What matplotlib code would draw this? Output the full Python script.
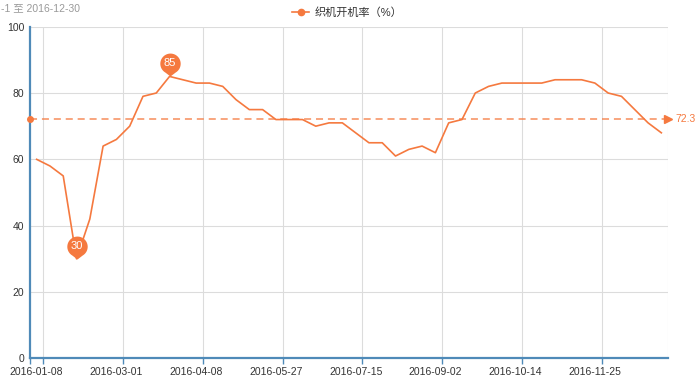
import numpy as np
import matplotlib
matplotlib.use("Agg")
import matplotlib.pyplot as plt
from matplotlib.path import Path
from matplotlib.lines import Line2D

# weekly observation dates (category axis)
dates = [
    "2016-01-08", "2016-01-15", "2016-01-22", "2016-01-29", "2016-02-05", "2016-02-19",
    "2016-03-01", "2016-03-04", "2016-03-11", "2016-03-18", "2016-03-25", "2016-04-01",
    "2016-04-08", "2016-04-15", "2016-04-22", "2016-04-29", "2016-05-13", "2016-05-20",
    "2016-05-27", "2016-06-03", "2016-06-17", "2016-06-24", "2016-07-01", "2016-07-08",
    "2016-07-15", "2016-07-22", "2016-07-29", "2016-08-05", "2016-08-12", "2016-08-26",
    "2016-09-02", "2016-09-09", "2016-09-16", "2016-09-23", "2016-09-30", "2016-10-08",
    "2016-10-14", "2016-10-21", "2016-10-28", "2016-11-04", "2016-11-11", "2016-11-18",
    "2016-11-25", "2016-12-02", "2016-12-09", "2016-12-16", "2016-12-23", "2016-12-30",
]
# 织机开机率 (%)
rate = [
    60, 58, 55, 30, 42, 64, 66, 70, 79, 80, 85, 84,
    83, 83, 82, 78, 75, 75, 72, 72, 72, 70, 71, 71,
    68, 65, 65, 61, 63, 64, 62, 71, 72, 80, 82, 83,
    83, 83, 83, 84, 84, 84, 83, 80, 79, 75, 71, 68,
]
avg_value = 72.3
series_name = "织机开机率（%）"
range_text = "-1 至 2016-12-30"   # what is left visible of the date-range subtitle
label_every = 6

LINE = "#f5793f"
AXIS = "#4f8ab8"
GRID = "#dcdcdc"
TEXT = "#333333"

plt.rcParams["font.family"] = ["Liberation Sans", "Noto Sans CJK SC", "DejaVu Sans"]

fig = plt.figure(figsize=(7, 3.85), dpi=100)
ax = fig.add_axes([30 / 700, 26.7 / 385, 638 / 700, 331.6 / 385])

x = np.arange(len(dates))
ax.plot(x, rate, color=LINE, lw=1.2, zorder=3)

# average line with end symbols
n = len(dates)
ax.plot([-0.5, n - 0.5], [avg_value, avg_value], color=LINE, alpha=0.85, lw=1.1,
        ls=(0, (4.6, 3.2)), zorder=2, clip_on=False)
ax.plot([-0.5], [avg_value], "o", color=LINE, ms=4, clip_on=False, zorder=4)
ax.plot([n - 0.5], [avg_value], ">", color=LINE, ms=6, clip_on=False, zorder=4)
ax.annotate(f"{avg_value}", (n - 0.5, avg_value), xytext=(5, 0), textcoords="offset points",
            ha="left", va="center", color=LINE, fontsize=7.5, annotation_clip=False)

# pin markers for max / min
t = np.linspace(np.deg2rad(-60), np.deg2rad(240), 40)
r, c = 1.0, 1.25
verts = [(0, 0)] + [(r * np.cos(a), c + r * np.sin(a)) for a in t] + [(0, 0)]
pin = Path(verts, [Path.MOVETO] + [Path.LINETO] * (len(verts) - 2) + [Path.CLOSEPOLY])
for idx in (int(np.argmax(rate)), int(np.argmin(rate))):
    ax.plot([idx], [rate[idx]], marker=pin, ms=33, color=LINE, mec="none", zorder=5)
    ax.annotate(str(rate[idx]), (idx, rate[idx]), xytext=(0, 9.5), textcoords="offset points",
                ha="center", va="center", color="white", fontsize=8, zorder=6)

ax.set_xlim(-0.5, n - 0.5)
ax.set_ylim(0, 100)
ax.set_yticks([0, 20, 40, 60, 80, 100])
major = list(range(0, n, label_every))
ax.set_xticks(major)
ax.set_xticklabels([dates[i] for i in major])
ax.set_xticks([-0.5] + [i + 0.5 for i in major], minor=True)
ax.tick_params(axis="x", which="major", length=0, pad=6, labelsize=7.5, labelcolor=TEXT)
ax.tick_params(axis="x", which="minor", length=4, width=1, color=AXIS)
ax.tick_params(axis="y", length=0, pad=4, labelsize=7.5, labelcolor=TEXT)

for v in [20, 40, 60, 80, 100]:
    ax.axhline(v, color=GRID, lw=0.8, zorder=0)
for v in [i + 0.5 for i in major] + [n - 0.5]:
    ax.axvline(v, color=GRID, lw=0.8, zorder=0)

for s in ("top", "right"):
    ax.spines[s].set_visible(False)
for s in ("left", "bottom"):
    ax.spines[s].set_color(AXIS)
    ax.spines[s].set_linewidth(1.6)
    ax.spines[s].set_zorder(3)

# legend
h = Line2D([], [], color=LINE, lw=1.2, marker="o", ms=4.5)
fig.legend([h], [series_name], loc="center", bbox_to_anchor=(0.496, 1 - 13 / 385),
           frameon=False, fontsize=8, handlelength=1.6, handletextpad=0.5, labelcolor=TEXT)

fig.text(1 / 700, 1 - 8 / 385, range_text, ha="left", va="center", color="#999999", fontsize=7.5)

fig.savefig("out.png", dpi=100)
